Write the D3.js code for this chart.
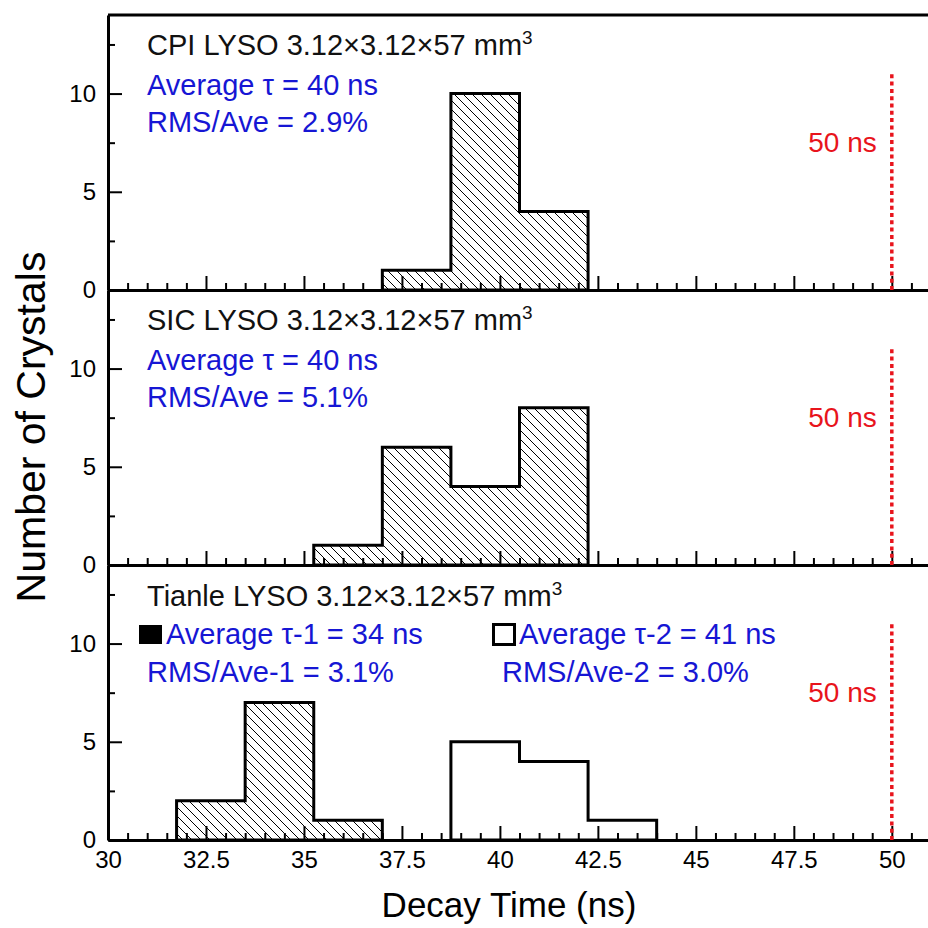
<!DOCTYPE html>
<html>
<head>
<meta charset="utf-8">
<script src="https://cdn.jsdelivr.net/npm/d3@7"></script>
<style>
  body { margin: 0; background: #fff; }
  text { font-family: "Liberation Sans", Arial, sans-serif; }
</style>
</head>
<body>
<div id="chart"></div>
<script>
  var width = 928, height = 928;
  var left = 108, right = 931, top0 = 15, panelH = 275;

  // histogram data (bin start in ns, number of crystals)
  var binWidth = 1.75;
  var cpiBins = [37.0, 38.75, 40.5];
  var cpiCounts = [1, 10, 4];
  var sicBins = [35.25, 37.0, 38.75, 40.5];
  var sicCounts = [1, 6, 4, 8];
  var tianle1Bins = [31.75, 33.5, 35.25];
  var tianle1Counts = [2, 7, 1];
  var tianle2Bins = [38.75, 40.5, 42.25];
  var tianle2Counts = [5, 4, 1];

  var xMajor = [30, 32.5, 35, 37.5, 40, 42.5, 45, 47.5, 50];
  var xLabels = ["30", "32.5", "35", "37.5", "40", "42.5", "45", "47.5", "50"];
  var xMinor = d3.range(30.5, 51, 0.5).filter(function (v) { return v % 2.5 !== 0; });
  var yMajor = [0, 5, 10];
  var yMinor = [2.5, 7.5, 12.5];
  var limitValue = 50, limitTop = 11, limitLabelY = 7.5;

  var blue = "#1616d4", red = "#e8141c";

  var panels = [
    { hists: [{ bins: cpiBins, counts: cpiCounts, hatched: true }],
      texts: [
        { t: "CPI LYSO 3.12×3.12×57 mm", sup: "3", x: 147, y: 40, c: "#111" },
        { t: "Average τ = 40 ns", x: 147, y: 80, c: blue },
        { t: "RMS/Ave = 2.9%", x: 147, y: 117, c: blue }
      ] },
    { hists: [{ bins: sicBins, counts: sicCounts, hatched: true }],
      texts: [
        { t: "SIC LYSO 3.12×3.12×57 mm", sup: "3", x: 147, y: 40, c: "#111" },
        { t: "Average τ = 40 ns", x: 147, y: 80, c: blue },
        { t: "RMS/Ave = 5.1%", x: 147, y: 117, c: blue }
      ] },
    { hists: [{ bins: tianle1Bins, counts: tianle1Counts, hatched: true },
              { bins: tianle2Bins, counts: tianle2Counts, hatched: false }],
      texts: [
        { t: "Tianle LYSO 3.12×3.12×57 mm", sup: "3", x: 147, y: 41, c: "#111" },
        { t: "Average τ-1 = 34 ns", x: 166, y: 79, c: blue },
        { t: "RMS/Ave-1 = 3.1%", x: 147, y: 117, c: blue },
        { t: "Average τ-2 = 41 ns", x: 519, y: 79, c: blue },
        { t: "RMS/Ave-2 = 3.0%", x: 502, y: 117, c: blue }
      ],
      legend: true }
  ];

  var svg = d3.select("#chart").append("svg")
    .attr("width", width)
    .attr("height", height);

  var pat = svg.append("defs").append("pattern")
    .attr("id", "hatch")
    .attr("patternUnits", "userSpaceOnUse")
    .attr("width", 9)
    .attr("height", 9);
  pat.append("path")
    .attr("d", "M0,0 L9,9 M-2,7 L2,11 M7,-2 L11,2")
    .attr("stroke", "#000")
    .attr("stroke-width", 1);

  var x = d3.scaleLinear().domain([30, 51]).range([left, right]);

  function stepPoints(bins, counts) {
    var pts = [[bins[0], 0]];
    bins.forEach(function (b, i) {
      pts.push([b, counts[i]]);
      pts.push([b + binWidth, counts[i]]);
    });
    pts.push([bins[bins.length - 1] + binWidth, 0]);
    return pts;
  }

  panels.forEach(function (p, i) {
    var y0 = top0 + i * panelH;
    var y = d3.scaleLinear().domain([0, 14]).range([y0 + panelH, y0]);
    var g = svg.append("g");

    var line = d3.line()
      .x(function (d) { return x(d[0]); })
      .y(function (d) { return y(d[1]); });

    p.hists.forEach(function (h) {
      g.append("path")
        .attr("d", line(stepPoints(h.bins, h.counts)) + "Z")
        .attr("fill", h.hatched ? "url(#hatch)" : "none")
        .attr("stroke", "#000")
        .attr("stroke-width", 3)
        .attr("stroke-linejoin", "miter");
    });

    // x axis (ticks pointing up, labels only on the bottom panel)
    var xMinAx = g.append("g")
      .attr("transform", "translate(0," + y(0) + ")")
      .call(d3.axisBottom(x).tickValues(xMinor).tickSize(-7).tickSizeOuter(0).tickFormat(""));
    xMinAx.select(".domain").remove();
    var xAx = g.append("g")
      .attr("transform", "translate(0," + y(0) + ")")
      .call(d3.axisBottom(x).tickValues(xMajor).tickSize(-14).tickSizeOuter(0).tickPadding(11)
        .tickFormat(function (d, k) { return i === 2 ? xLabels[k] : ""; }));
    xAx.selectAll("text").attr("font-size", 24).attr("fill", "#000")
      .attr("font-family", "Liberation Sans, Arial, sans-serif");

    // y axis (ticks pointing right)
    var yMinAx = g.append("g")
      .attr("transform", "translate(" + left + ",0)")
      .call(d3.axisLeft(y).tickValues(yMinor).tickSize(-7).tickSizeOuter(0).tickFormat(""));
    yMinAx.select(".domain").remove();
    var yAx = g.append("g")
      .attr("transform", "translate(" + left + ",0)")
      .call(d3.axisLeft(y).tickValues(yMajor).tickSize(-14).tickSizeOuter(0).tickPadding(12));
    yAx.selectAll("text").attr("font-size", 24).attr("fill", "#000")
      .attr("font-family", "Liberation Sans, Arial, sans-serif");

    g.selectAll(".tick line").attr("stroke", "#000").attr("stroke-width", 2);
    g.selectAll(".domain").attr("stroke", "#000").attr("stroke-width", 3);

    // 50 ns limit
    g.append("line")
      .attr("x1", x(limitValue)).attr("x2", x(limitValue))
      .attr("y1", y(0)).attr("y2", y(limitTop))
      .attr("stroke", red)
      .attr("stroke-width", 3.5)
      .attr("stroke-dasharray", "4,3.3");
    g.append("text")
      .attr("x", x(limitValue) - 15)
      .attr("y", y(limitLabelY))
      .attr("dy", "0.35em")
      .attr("text-anchor", "end")
      .attr("font-size", 28)
      .attr("fill", red)
      .text("50 ns");

    // annotations
    p.texts.forEach(function (t) {
      var tx = g.append("text")
        .attr("x", t.x)
        .attr("y", y0 + t.y)
        .attr("font-size", 29)
        .attr("fill", t.c)
        .text(t.t);
      if (t.sup) {
        tx.append("tspan")
          .attr("dy", -11)
          .attr("font-size", 19)
          .text(t.sup);
      }
    });

    if (p.legend) {
      g.append("rect")
        .attr("x", 139).attr("y", y0 + 60)
        .attr("width", 23).attr("height", 19)
        .attr("fill", "#000");
      g.append("rect")
        .attr("x", 493.5).attr("y", y0 + 59.5)
        .attr("width", 21).attr("height", 20)
        .attr("fill", "none")
        .attr("stroke", "#000")
        .attr("stroke-width", 3);
    }
  });

  // top frame line
  svg.append("line")
    .attr("x1", left).attr("x2", right)
    .attr("y1", top0).attr("y2", top0)
    .attr("stroke", "#000")
    .attr("stroke-width", 3);

  // axis titles
  svg.append("text")
    .attr("x", 509)
    .attr("y", 917)
    .attr("text-anchor", "middle")
    .attr("font-size", 35)
    .attr("fill", "#000")
    .text("Decay Time (ns)");

  svg.append("text")
    .attr("transform", "translate(45,427) rotate(-90)")
    .attr("text-anchor", "middle")
    .attr("font-size", 41)
    .attr("fill", "#000")
    .text("Number of Crystals");
</script>
</body>
</html>
